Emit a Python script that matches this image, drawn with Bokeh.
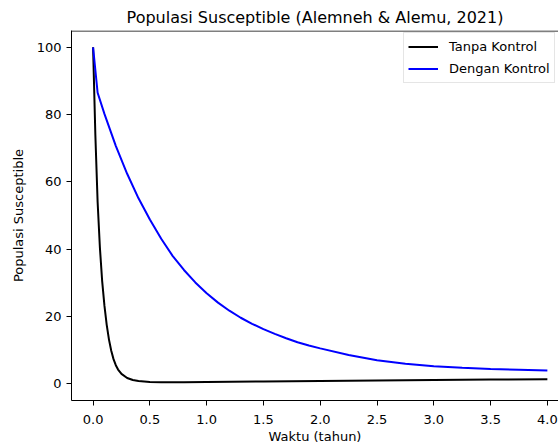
from bokeh.plotting import figure
from bokeh.models import Span, Legend, LegendItem, FixedTicker, Range1d
from bokeh.embed import file_html
from bokeh.resources import INLINE

# Data
t_tanpa = [0.0, 0.02, 0.04, 0.06, 0.08, 0.10, 0.12, 0.14, 0.16, 0.18, 0.20, 0.22, 0.25,
           0.30, 0.35, 0.40, 0.50, 0.60, 0.80, 1.00, 1.50, 2.00, 2.50, 3.00, 3.50, 4.00]
s_tanpa = [100.0, 74.0, 54.0, 40.5, 30.5, 23.2, 17.5, 13.1, 9.8, 7.3, 5.5, 4.2, 2.9,
           1.7, 1.1, 0.8, 0.5, 0.42, 0.42, 0.48, 0.65, 0.82, 0.98, 1.12, 1.24, 1.33]

t_dengan = [0.0, 0.04, 0.10, 0.20, 0.30, 0.40, 0.50, 0.60, 0.70, 0.80, 0.90, 1.00, 1.10,
            1.20, 1.30, 1.40, 1.50, 1.60, 1.70, 1.80, 1.90, 2.00, 2.25, 2.50, 2.75,
            3.00, 3.25, 3.50, 3.75, 4.00]
s_dengan = [100.0, 86.5, 80.2, 70.7, 62.4, 55.1, 48.8, 43.1, 38.0, 33.8, 30.1, 26.9, 24.1,
            21.7, 19.6, 17.8, 16.2, 14.8, 13.5, 12.3, 11.35, 10.5, 8.5, 6.95, 5.9,
            5.15, 4.7, 4.4, 4.15, 3.9]

x_ticks = [0.0, 0.5, 1.0, 1.5, 2.0, 2.5, 3.0, 3.5, 4.0]
x_tick_labels = ["0.0", "0.5", "1.0", "1.5", "2.0", "2.5", "3.0", "3.5", "4.0"]
y_ticks = [0, 20, 40, 60, 80, 100]
y_tick_labels = ["0", "20", "40", "60", "80", "100"]

title_text = "Populasi Susceptible (Alemneh & Alemu, 2021)"
x_label = "Waktu (tahun)"
y_label = "Populasi Susceptible"
series_names = ["Tanpa Kontrol", "Dengan Kontrol"]

FONT = "DejaVu Sans"

p = figure(width=558, height=446, output_backend="svg", toolbar_location=None,
           x_range=Range1d(-0.19, 4.098), y_range=Range1d(-5, 105),
           min_border_left=71, min_border_right=0, min_border_top=30, min_border_bottom=45,
           title=title_text)

p.title.text_font = FONT
p.title.text_font_size = "16px"
p.title.text_font_style = "normal"
p.title.text_color = "black"
p.title.align = "center"
p.title.offset = 4
p.title.standoff = 8

p.outline_line_color = None
p.xgrid.visible = False
p.ygrid.visible = False
p.background_fill_color = "white"
p.border_fill_color = "white"

for ax in (p.xaxis[0], p.yaxis[0]):
    ax.axis_line_color = "black"
    ax.axis_line_width = 1
    ax.major_tick_line_color = "black"
    ax.major_tick_out = 5
    ax.major_tick_in = 0
    ax.minor_tick_line_color = None
    ax.major_label_text_font = FONT
    ax.major_label_text_font_size = "13px"
    ax.major_label_text_color = "black"
    ax.axis_label_text_font = FONT
    ax.axis_label_text_font_size = "13px"
    ax.axis_label_text_font_style = "normal"
    ax.axis_label_text_color = "black"

p.xaxis.ticker = FixedTicker(ticks=x_ticks)
p.xaxis.major_label_overrides = dict(zip(x_ticks, x_tick_labels))
p.yaxis.ticker = FixedTicker(ticks=y_ticks)
p.yaxis.major_label_overrides = dict(zip(y_ticks, y_tick_labels))
p.xaxis.axis_label = x_label
p.yaxis.axis_label = y_label
p.xaxis.major_label_standoff = 9
p.xaxis.axis_label_standoff = 2
p.yaxis.major_label_standoff = 5
p.yaxis.axis_label_standoff = 8

p.add_layout(Span(location=104.85, dimension="width", line_color="black", line_width=1))

r1 = p.line(t_tanpa, s_tanpa, line_color="#000000", line_width=2)
r2 = p.line(t_dengan, s_dengan, line_color="#0000ff", line_width=2)

legend = Legend(items=[LegendItem(label=series_names[0], renderers=[r1]),
                       LegendItem(label=series_names[1], renderers=[r2])],
                location=(332, 317), margin=0, padding=4, spacing=3,
                glyph_width=30, glyph_height=19, label_height=19, label_standoff=11,
                label_text_font=FONT, label_text_font_size="13px", label_text_color="black",
                border_line_color="#cccccc", border_line_width=1,
                background_fill_color="white", background_fill_alpha=0.8)
p.add_layout(legend)

open("out.html", "w").write(file_html(p, INLINE))
